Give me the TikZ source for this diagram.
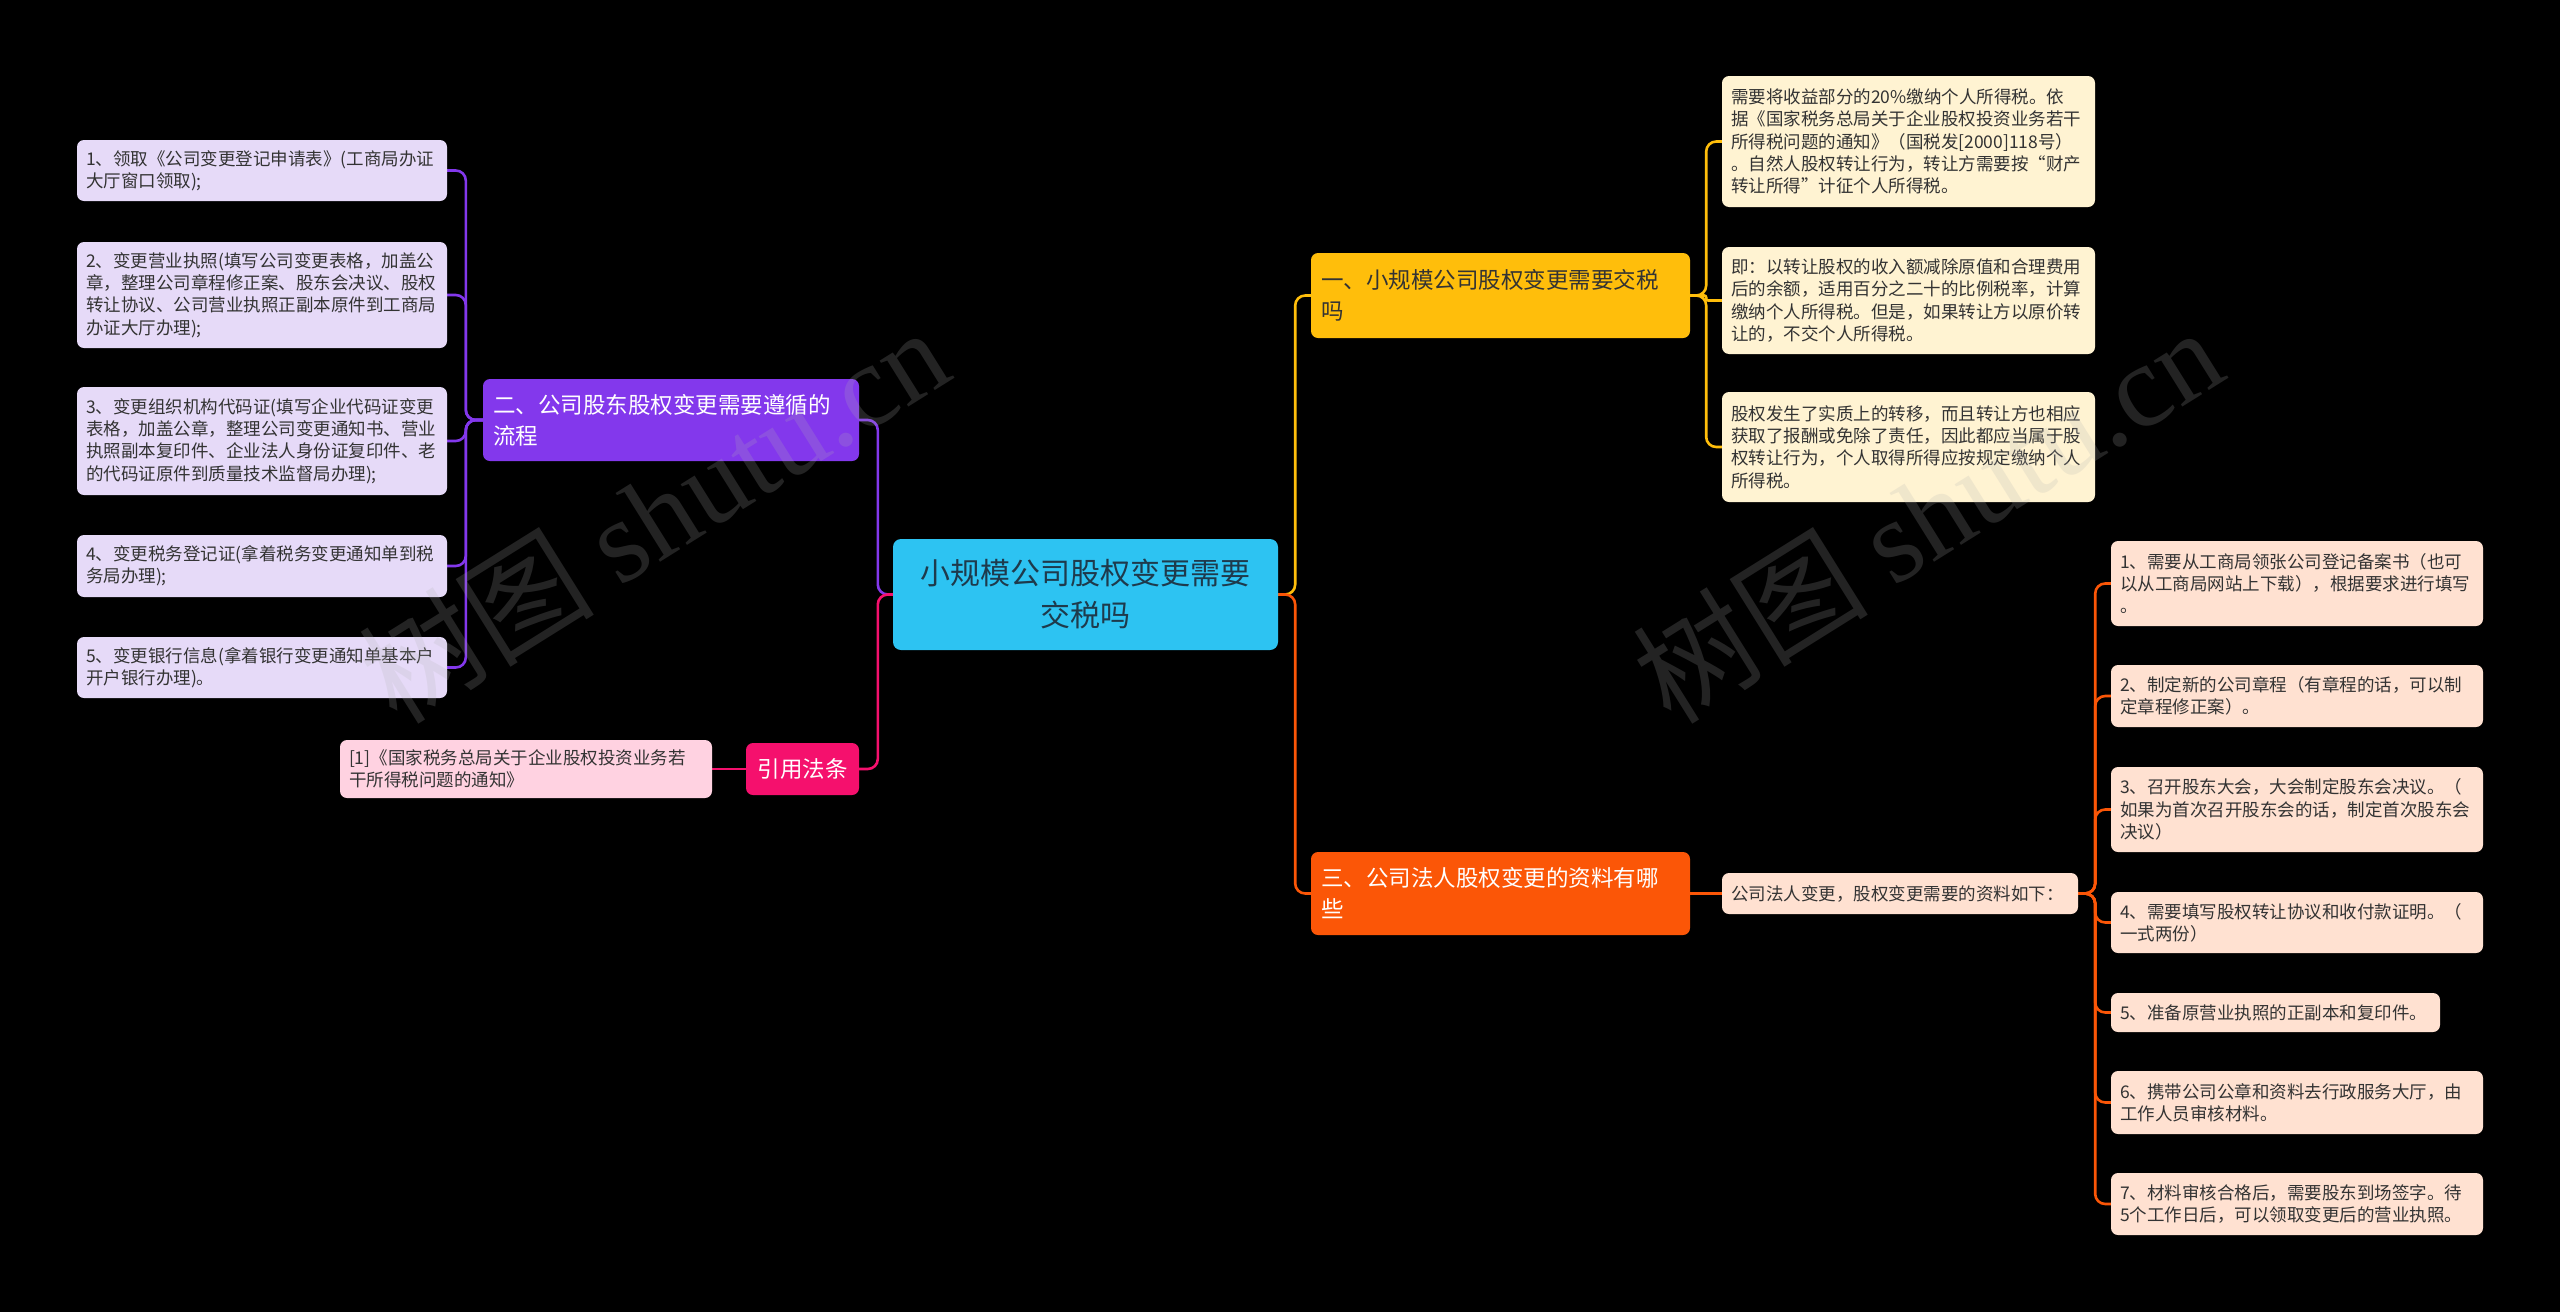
\documentclass[tikz,border=0pt]{standalone}
\usepackage{fontspec}
\setmainfont{Noto Sans CJK SC}
\newfontfamily\wmserif{Liberation Serif}
\pgfdeclarelayer{background}
\pgfdeclarelayer{front}
\pgfsetlayers{background,main,front}
\definecolor{cRoot}{HTML}{2DC3F2}
\definecolor{cPur}{HTML}{8338EC}
\definecolor{cPink}{HTML}{F5106D}
\definecolor{cYel}{HTML}{FFBE0B}
\definecolor{cOra}{HTML}{FB5607}
\definecolor{lPur}{HTML}{E6DAF8}
\definecolor{lPink}{HTML}{FFD2E1}
\definecolor{lYel}{HTML}{FFF3D2}
\definecolor{lOra}{HTML}{FFE1D1}
\definecolor{txtdark}{HTML}{333333}
\definecolor{rootTxt}{HTML}{1E3A4C}
\begin{document}
\begin{tikzpicture}[x=1pt,y=-1pt,
  box/.style={rounded corners=7pt, inner xsep=9pt, inner ysep=3pt, align=left},
  leaffont/.style={font=\fontsize{17.5}{22.3}\selectfont, text=txtdark},
  leftleaf/.style={box, leaffont, fill=lPur, text width=352pt, minimum width=370pt},
  citeleaf/.style={box, leaffont, fill=lPink, text width=354pt, minimum width=372pt},
  yleaf/.style={box, leaffont, fill=lYel, text width=355pt, minimum width=373pt},
  mleaf/.style={box, leaffont, fill=lOra, text width=338pt, minimum width=356pt},
  rleaf/.style={box, leaffont, fill=lOra, text width=354pt, minimum width=372pt},
  branch/.style={box, inner xsep=10pt, font=\fontsize{22.5}{31}\selectfont},
  rootbox/.style={rounded corners=8pt, fill=cRoot, align=center, text=rootTxt,
    font=\fontsize{30}{42}\selectfont, minimum width=385pt, minimum height=111pt},
  conn/.style={line width=2.6pt, rounded corners=10pt},
  wm/.style={rotate=32, text=gray!60, opacity=0.2, font=\fontsize{118}{120}\selectfont}
]
\begin{pgfonlayer}{background}
\fill[black] (0,0) rectangle (2560,1312);
\end{pgfonlayer}
\useasboundingbox (0,0) rectangle (2560,1312);

% root
\node[rootbox] (root) at (1085.5,594.5) {小规模公司股权变更需要\\交税吗};

% left branches
\node[branch, fill=cPur, text=white, text width=356pt, minimum width=376pt, minimum height=82pt] (B2) at (671,420) {二、公司股东股权变更需要遵循的\\流程};
\node[box, inner xsep=6pt, fill=cPink, text=white, align=center, font=\fontsize{22.5}{31}\selectfont, minimum width=113pt, minimum height=52pt] (Q) at (802.5,769) {引用法条};
\node[citeleaf, minimum height=58pt] (C) at (526,769) {[1]《国家税务总局关于企业股权投资业务若\\干所得税问题的通知》};

\node[leftleaf, minimum height=61pt] (L1) at (262,170.5) {1、领取《公司变更登记申请表》(工商局办证\\大厅窗口领取);};
\node[leftleaf, minimum height=106pt] (L2) at (262,295) {2、变更营业执照(填写公司变更表格，加盖公\\章，整理公司章程修正案、股东会决议、股权\\转让协议、公司营业执照正副本原件到工商局\\办证大厅办理);};
\node[leftleaf, minimum height=108pt] (L3) at (262,441) {3、变更组织机构代码证(填写企业代码证变更\\表格，加盖公章，整理公司变更通知书、营业\\执照副本复印件、企业法人身份证复印件、老\\的代码证原件到质量技术监督局办理);};
\node[leftleaf, minimum height=62pt] (L4) at (262,566) {4、变更税务登记证(拿着税务变更通知单到税\\务局办理);};
\node[leftleaf, minimum height=61pt] (L5) at (262,667.5) {5、变更银行信息(拿着银行变更通知单基本户\\开户银行办理)。};

% right branches
\node[branch, fill=cYel, text=txtdark, text width=359pt, minimum width=379pt, minimum height=85pt] (B1) at (1500.5,295.5) {一、小规模公司股权变更需要交税\\吗};
\node[branch, fill=cOra, text=white, text width=359pt, minimum width=379pt, minimum height=83pt] (B3) at (1500.5,893.5) {三、公司法人股权变更的资料有哪\\些};

\node[yleaf, minimum height=131pt] (Ya) at (1908.5,141.5) {需要将收益部分的20\%缴纳个人所得税。依\\据《国家税务总局关于企业股权投资业务若干\\所得税问题的通知》（国税发[2000]118号）\\。自然人股权转让行为，转让方需要按“财产\\转让所得”计征个人所得税。};
\node[yleaf, minimum height=107pt] (Yb) at (1908.5,300.5) {即：以转让股权的收入额减除原值和合理费用\\后的余额，适用百分之二十的比例税率，计算\\缴纳个人所得税。但是，如果转让方以原价转\\让的，不交个人所得税。};
\node[yleaf, minimum height=110pt] (Yc) at (1908.5,447) {股权发生了实质上的转移，而且转让方也相应\\获取了报酬或免除了责任，因此都应当属于股\\权转让行为，个人取得所得应按规定缴纳个人\\所得税。};

\node[mleaf, minimum height=41pt] (M) at (1900,893.5) {公司法人变更，股权变更需要的资料如下：};

\node[rleaf, minimum height=85pt] (R1) at (2297,583.5) {1、需要从工商局领张公司登记备案书（也可\\以从工商局网站上下载），根据要求进行填写\\。};
\node[rleaf, minimum height=62pt] (R2) at (2297,696) {2、制定新的公司章程（有章程的话，可以制\\定章程修正案）。};
\node[rleaf, minimum height=85pt] (R3) at (2297,809.5) {3、召开股东大会，大会制定股东会决议。（\\如果为首次召开股东会的话，制定首次股东会\\决议）};
\node[rleaf, minimum height=61pt] (R4) at (2297,922.5) {4、需要填写股权转让协议和收付款证明。（\\一式两份）};
\node[rleaf, text width=311pt, minimum width=329pt, minimum height=39pt] (R5) at (2275.5,1012.5) {5、准备原营业执照的正副本和复印件。};
\node[rleaf, minimum height=63pt] (R6) at (2297,1102.5) {6、携带公司公章和资料去行政服务大厅，由\\工作人员审核材料。};
\node[rleaf, minimum height=62pt] (R7) at (2297,1204) {7、材料审核合格后，需要股东到场签字。待\\5个工作日后，可以领取变更后的营业执照。};

\begin{pgfonlayer}{background}
% root to left
\draw[conn, cPur] (root.west) -- ++(-15,0) |- (B2.east);
\draw[conn, cPink] (root.west) -- ++(-15,0) |- (Q.east);
\draw[conn, cPink] (Q.west) -- (C.east);
\foreach \n in {L1,L2,L3,L4,L5}
  \draw[conn, cPur] (B2.west) -- ++(-17,0) |- (\n.east);
% root to right
\draw[conn, cYel] (root.east) -- ++(17,0) |- (B1.west);
\draw[conn, cOra] (root.east) -- ++(17,0) |- (B3.west);
\draw[conn, cYel] (B1.east) -- ++(16,0) |- (Ya.west);
\draw[conn, cYel] (B1.east) -- ++(16,0) |- (Yc.west);
\draw[conn, cYel, rounded corners=2pt] (B1.east) -- ++(16,0) |- (Yb.west);
\draw[conn, cOra] (B3.east) -- (M.west);
\foreach \n in {R1,R2,R3,R4,R5,R6,R7}
  \draw[conn, cOra] (M.east) -- ++(17,0) |- (\n.west);
\end{pgfonlayer}

\begin{pgfonlayer}{front}
\node[wm] (wm1) at (653,514) {树图 {\wmserif shutu.cn}};
\node[wm] (wm2) at (1927,514) {树图 {\wmserif shutu.cn}};
\end{pgfonlayer}
\end{tikzpicture}
\end{document}
